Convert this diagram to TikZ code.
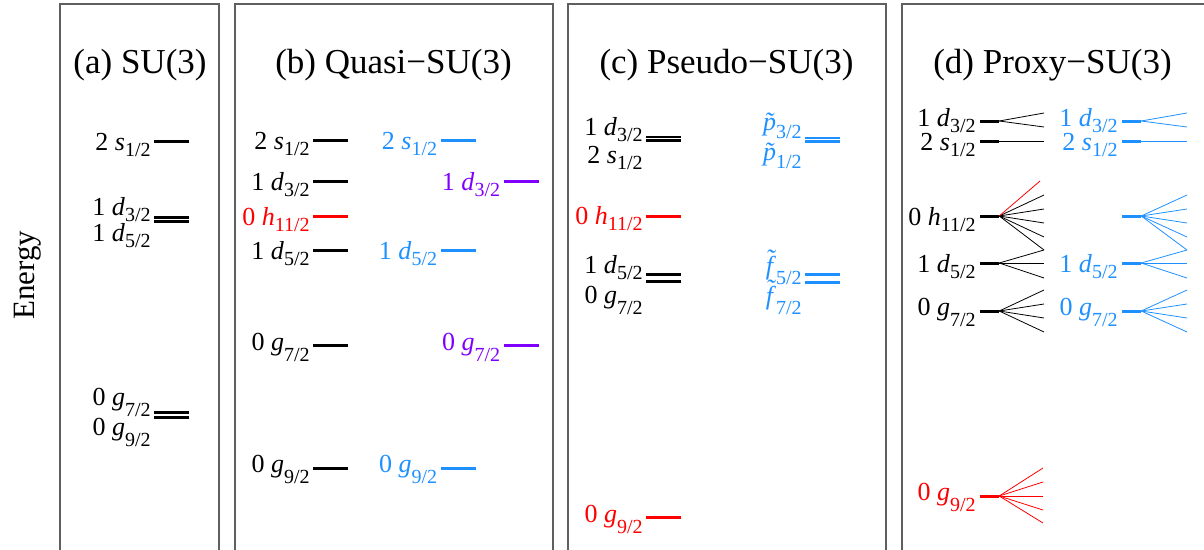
\documentclass[tikz,border=0pt]{standalone}
\usepackage{fontspec}
\setmainfont{Liberation Serif}
\usetikzlibrary{positioning}
\definecolor{pblue}{RGB}{30,144,255}
\definecolor{pviolet}{RGB}{128,0,255}
\definecolor{pgray}{RGB}{95,95,95}
\newcommand{\subf}{\fontsize{20}{22}\selectfont}
% orbital label: n l_j, optional drop of the subscript
\newcommand{\orb}[4][6pt]{#2 \textit{#3}\raisebox{-#1}{\subf #4}}
% tilde letter, raise of the tilde
\newcommand{\tilt}[2]{\ooalign{\textit{#1}\cr\hidewidth\raisebox{#2}{\textit{\char"02DC}}\hidewidth\cr}}
\newcommand{\torb}[4]{\tilt{#2}{#3}\raisebox{-#1}{\subf #4}}
% fan of thin lines from a level to named end points
\newcommand{\fan}[4]{\foreach \y [count=\i] in {#3} {%
  \coordinate (#1-\i) at (#2,\y); \draw[fan, #4] (#1.east) -- (#1-\i);}}

\begin{document}
\begin{tikzpicture}[x=1pt, y=-1pt,
  panel/.style={draw=pgray, line width=1.3pt},
  ttl/.style={font=\fontsize{35}{40}\selectfont, anchor=base, inner sep=0pt},
  lvl/.style={fill, inner sep=0pt, minimum width=35pt, minimum height=3pt},
  lvd/.style={lvl, minimum height=2.2pt},
  stub/.style={lvl, minimum width=19pt},
  lab/.style={font=\fontsize{26}{30}\selectfont, inner sep=0pt, anchor=base east},
  lb/.style={lab, yshift=-9pt},
  lbg/.style={lab, yshift=-4.5pt},
  fan/.style={line width=0.8pt}]
  \useasboundingbox (0,0) rectangle (1204,549);
  \clip (0,0) rectangle (1204,549);

  % panels
  \draw[panel] (60,4) rectangle (219,570);
  \draw[panel] (235,4) rectangle (553,570);
  \draw[panel] (568,4) rectangle (886,570);
  \draw[panel] (902,4) rectangle (1240,570);
  \node[rotate=90, font=\fontsize{31}{34}\selectfont] (en) at (28,275) {Energy};

  \node[ttl] (ta) at (140,73) {(a) SU(3)};
  \node[ttl] (tb) at (393.5,73) {(b) Quasi−SU(3)};
  \node[ttl] (tc) at (726.5,73) {(c) Pseudo−SU(3)};
  \node[ttl] (td) at (1052.5,73) {(d) Proxy−SU(3)};

  % (a)
  \node[lvl] (a1) at (171.5,141) {};
  \node[lvd] (a2) at (171.5,217.5) {};
  \node[lvd] (a3) at (171.5,221.5) {};
  \node[lvd] (a4) at (171.5,412.5) {};
  \node[lvd] (a5) at (171.5,417.5) {};
  \node[left=3pt of a1, lb] (la1) {\orb{2}{s}{1/2}};
  \node[left=3pt of a2, lab, yshift=2.5pt] (la2) {\orb{1}{d}{3/2}};
  \node[left=3pt of a3, lab, yshift=-20pt] (la3) {\orb{1}{d}{5/2}};
  \node[left=3pt of a4, lab, yshift=7.5pt] (la4) {\orb[11pt]{0}{g}{7/2}};
  \node[left=3pt of a5, lab, yshift=-17.5pt] (la5) {\orb[11pt]{0}{g}{9/2}};

  % (b)
  \node[lvl] (b1) at (330.5,140.5) {};
  \node[lvl] (b2) at (330.5,181.5) {};
  \node[lvl, red] (b3) at (330.5,216) {};
  \node[lvl] (b4) at (330.5,250) {};
  \node[lvl] (b5) at (330.5,345.5) {};
  \node[lvl] (b6) at (330.5,468) {};
  \node[left=3pt of b1, lb] (lb1) {\orb{2}{s}{1/2}};
  \node[left=3pt of b2, lb] (lb2) {\orb{1}{d}{3/2}};
  \node[left=3pt of b3, lb, red] (lb3) {\orb{0}{h}{11/2}};
  \node[left=3pt of b4, lb] (lb4) {\orb{1}{d}{5/2}};
  \node[left=3pt of b5, lbg] (lb5) {\orb[11pt]{0}{g}{7/2}};
  \node[left=3pt of b6, lbg] (lb6) {\orb[11pt]{0}{g}{9/2}};
  \node[lvl, pblue] (bb1) at (458,140.5) {};
  \node[lvl, pblue] (bb2) at (458,250) {};
  \node[lvl, pblue] (bb3) at (458,468) {};
  \node[left=3pt of bb1, lb, pblue] (lbb1) {\orb{2}{s}{1/2}};
  \node[left=3pt of bb2, lb, pblue] (lbb2) {\orb{1}{d}{5/2}};
  \node[left=3pt of bb3, lbg, pblue] (lbb3) {\orb[11pt]{0}{g}{9/2}};
  \node[lvl, pviolet] (bp1) at (521,181.5) {};
  \node[lvl, pviolet] (bp2) at (521,345.5) {};
  \node[left=3pt of bp1, lb, pviolet] (lbp1) {\orb{1}{d}{3/2}};
  \node[left=3pt of bp2, lbg, pviolet] (lbp2) {\orb[11pt]{0}{g}{7/2}};

  % (c)
  \node[lvd] (c1) at (663.5,137) {};
  \node[lvd] (c2) at (663.5,140.5) {};
  \node[lvl, red] (c3) at (663.5,216) {};
  \node[lvl] (c4) at (663.5,274.3) {};
  \node[lvl] (c5) at (663.5,281.7) {};
  \node[lvl, red] (c6) at (663.5,517.5) {};
  \node[left=3pt of c1, lab, yshift=2pt] (lc1) {\orb{1}{d}{3/2}};
  \node[left=3pt of c2, lab, yshift=-22.5pt] (lc2) {\orb{2}{s}{1/2}};
  \node[left=3pt of c3, lab, red, yshift=-8pt] (lc3) {\orb{0}{h}{11/2}};
  \node[left=3pt of c4, lab, yshift=1.3pt] (lc4) {\orb{1}{d}{5/2}};
  \node[left=3pt of c5, lab, yshift=-21.3pt] (lc5) {\orb[11pt]{0}{g}{7/2}};
  \node[left=3pt of c6, lbg, red] (lc6) {\orb[11pt]{0}{g}{9/2}};
  \node[lvd, pblue] (cb1) at (822.5,138) {};
  \node[lvd, pblue] (cb2) at (822.5,141.5) {};
  \node[lvl, pblue] (cb3) at (822.5,274) {};
  \node[lvl, pblue] (cb4) at (822.5,282) {};
  \node[left=3pt of cb1, lab, pblue, yshift=8pt] (lcb1) {\torb{8pt}{p}{0pt}{3/2}};
  \node[left=3pt of cb2, lab, pblue, yshift=-18.5pt] (lcb2) {\torb{8pt}{p}{0pt}{1/2}};
  \node[left=3pt of cb3, lab, pblue] (lcb3) {\torb{10pt}{f}{7pt}{5/2}};
  \node[left=3pt of cb4, lab, pblue, yshift=-22pt] (lcb4) {\torb{10pt}{f}{7pt}{7/2}};

  % (d)
  \node[stub] (d1) at (989.5,121) {};
  \node[stub] (d2) at (989.5,141) {};
  \node[stub] (d3) at (989.5,216) {};
  \node[stub] (d4) at (989.5,263) {};
  \node[stub] (d5) at (989.5,311) {};
  \node[stub, red] (d6) at (989.5,496) {};
  \node[left=4pt of d1, lab, yshift=-5pt] (ld1) {\orb{1}{d}{3/2}};
  \node[left=4pt of d2, lb] (ld2) {\orb{2}{s}{1/2}};
  \node[left=4pt of d3, lb] (ld3) {\orb{0}{h}{11/2}};
  \node[left=4pt of d4, lb] (ld4) {\orb{1}{d}{5/2}};
  \node[left=4pt of d5, lbg] (ld5) {\orb[11pt]{0}{g}{7/2}};
  \node[left=4pt of d6, lbg, red] (ld6) {\orb[11pt]{0}{g}{9/2}};
  \fan{d1}{1044}{113,127}{}
  \fan{d2}{1044}{141}{}
  \fan{d3}{1044}{195,209,223,237,250}{}
  \coordinate (d3-r) at (1040,181);
  \draw[fan, red] (d3.east) -- (d3-r);
  \fan{d4}{1044}{250,263,278}{}
  \fan{d5}{1044}{290,304,318,332}{}
  \fan{d6}{1043}{468,482,496,510,523}{red}

  \node[stub, pblue] (e1) at (1131.5,121) {};
  \node[stub, pblue] (e2) at (1131.5,141) {};
  \node[stub, pblue] (e3) at (1131.5,216) {};
  \node[stub, pblue] (e4) at (1131.5,263) {};
  \node[stub, pblue] (e5) at (1131.5,311) {};
  \node[left=4pt of e1, lab, pblue, yshift=-5pt] (le1) {\orb{1}{d}{3/2}};
  \node[left=4pt of e2, lb, pblue] (le2) {\orb{2}{s}{1/2}};
  \node[left=4pt of e4, lb, pblue] (le4) {\orb{1}{d}{5/2}};
  \node[left=4pt of e5, lbg, pblue] (le5) {\orb[11pt]{0}{g}{7/2}};
  \fan{e1}{1187}{113,127}{pblue}
  \fan{e2}{1187}{141}{pblue}
  \fan{e3}{1187}{195,209,223,237,250}{pblue}
  \fan{e4}{1187}{250,263,278}{pblue}
  \fan{e5}{1187}{290,304,318,332}{pblue}
\end{tikzpicture}
\end{document}
